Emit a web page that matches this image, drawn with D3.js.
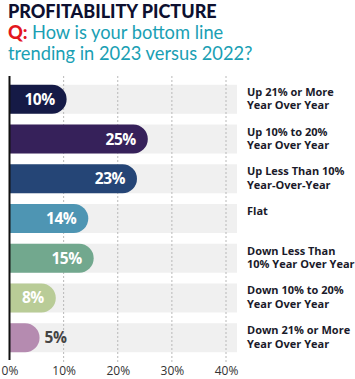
<!DOCTYPE html>
<html><head><meta charset="utf-8">
<script src="https://cdn.jsdelivr.net/npm/d3@7"></script>
<style>body{margin:0;background:#fff}svg{display:block}</style>
</head><body>
<script>
const categories = [
  ["Up 21% or More","Year Over Year"],
  ["Up 10% to 20%","Year Over Year"],
  ["Up Less Than 10%","Year-Over-Year"],
  ["Flat"],
  ["Down Less Than","10% Year Over Year"],
  ["Down 10% to 20%","Year Over Year"],
  ["Down 21% or More","Year Over Year"]
];
const values = [10, 25, 23, 14, 15, 8, 5];
const colors = ["#151a46","#36215a","#254576","#4e95b3","#72a88e","#b9cc97","#b58bb0"];
const ticks = [0, 10, 20, 30, 40];

const W = 355, H = 379;
const svg = d3.select("body").append("svg").attr("width", W).attr("height", H);

// Title
svg.append("text").attr("x", 8).attr("y", 17.5)
  .attr("font-family", "Lato, 'Open Sans', sans-serif").attr("font-weight", 900)
  .attr("font-size", 18).attr("fill", "#0d1030").text("PROFITABILITY PICTURE");
const q = svg.append("text").attr("x", 8).attr("y", 38.5)
  .attr("font-family", "Lato, 'Open Sans', sans-serif").attr("font-size", 18.3).attr("fill", "#1a9fb4");
q.append("tspan").attr("fill", "#e3161e").attr("font-weight", 900).text("Q: ");
q.append("tspan").text("How is your bottom line");
svg.append("text").attr("x", 8).attr("y", 59.5)
  .attr("font-family", "Lato, 'Open Sans', sans-serif").attr("font-size", 18.3).attr("fill", "#1a9fb4")
  .text("trending in 2023 versus 2022?");

const x = d3.scaleLinear().domain([0, 40]).range([9.5, 226]);
const y = d3.scaleBand().domain(d3.range(values.length)).range([80, 357]).paddingInner(0.27).paddingOuter(0.12);

// background bands
svg.append("g").selectAll("rect").data(values).join("rect")
  .attr("x", x(0)).attr("y", (d, i) => y(i)).attr("width", 237 - x(0)).attr("height", y.bandwidth())
  .attr("fill", "#f0f0f0");

// gridlines
svg.append("g").selectAll("line").data(ticks.slice(1)).join("line")
  .attr("x1", d => x(d)).attr("x2", d => x(d)).attr("y1", 76).attr("y2", 362)
  .attr("stroke", "#b8b8b8").attr("stroke-width", 1).attr("stroke-dasharray", "2,2");

// bars (pill shape)
const bh = y.bandwidth();
function pill(x0, x1, y0, h) {
  const rr = Math.min(h / 2, (x1 - x0));
  return `M${x0},${y0}H${x1 - rr}A${rr},${h/2} 0 0 1 ${x1},${y0 + h/2}A${rr},${h/2} 0 0 1 ${x1 - rr},${y0 + h}H${x0}Z`;
}
svg.append("g").selectAll("path").data(values).join("path")
  .attr("d", (d, i) => pill(x(0), x(d) + 3, y(i), bh))
  .attr("fill", (d, i) => colors[i]);

// value labels
svg.append("g").selectAll("text").data(values).join("text")
  .attr("x", d => d >= 8 ? x(d) + 3 - 12 : x(d) + 8)
  .attr("y", (d, i) => y(i) + bh / 2 + 5.5)
  .attr("text-anchor", d => d >= 8 ? "end" : "start")
  .attr("font-family", "'Open Sans', sans-serif").attr("font-weight", 700).attr("font-size", 15.5)
  .attr("fill", d => d >= 8 ? "#fff" : "#444")
  .attr("letter-spacing", -0.5)
  .text(d => d + "%");

// axis line
svg.append("line").attr("x1", x(0)).attr("x2", x(0)).attr("y1", 76).attr("y2", 360)
  .attr("stroke", "#111").attr("stroke-width", 2);

// tick labels
const axis = d3.axisBottom(x).tickValues(ticks).tickFormat(d => d + "%").tickSize(0);
const ag = svg.append("g").call(axis);
ag.select(".domain").remove();
ag.selectAll(".tick text").attr("y", 375).attr("dy", null)
  .attr("font-family", "'Open Sans', sans-serif").attr("font-size", 12).attr("fill", "#333");

// category labels
const lab = svg.append("g").selectAll("text").data(categories).join("text")
  .attr("x", 247).attr("y", (d, i) => y(i) + 11)
  .attr("font-family", "'Open Sans', sans-serif").attr("font-weight", 700).attr("font-size", 11)
  .attr("fill", "#1a1a2a");
lab.selectAll("tspan").data(d => d).join("tspan")
  .attr("x", 247).attr("dy", (d, j) => j === 0 ? 0 : 13.5).text(d => d);
</script>
</body></html>
